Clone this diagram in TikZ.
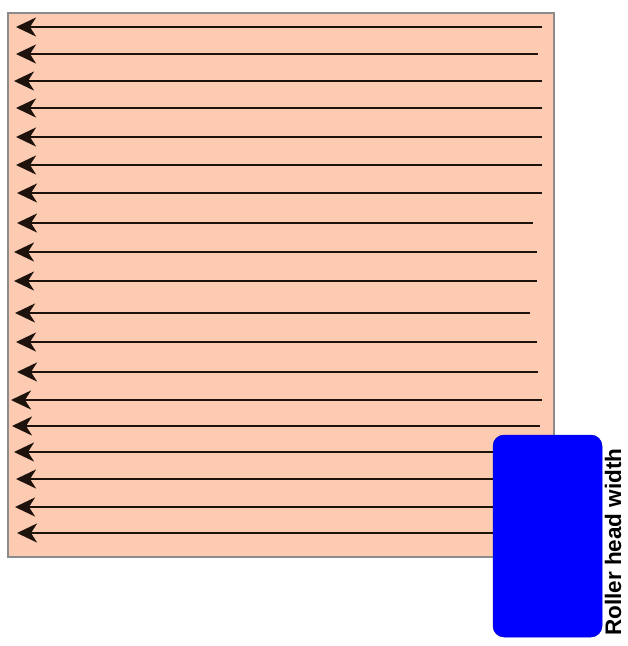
\documentclass[tikz,border=0pt]{standalone}
\usepackage{fontspec}
\setmainfont{Liberation Sans}
\usetikzlibrary{arrows.meta}
\definecolor{peach}{HTML}{FCCBB2}
\definecolor{frame}{HTML}{8C8C8C}
\definecolor{arrowc}{HTML}{1E120C}
\tikzset{
  panel/.style={fill=peach, draw=frame, line width=2.6pt},
  pass/.style={draw=arrowc, line width=2.4pt, -{Stealth[length=20pt,width=19pt,inset=6pt]}},
  roller/.style={fill=blue, draw=blue!80!black, line width=0.5pt, rounded corners=11pt},
  lbl/.style={font=\bfseries\fontsize{22.5}{26}\selectfont, rotate=90, inner sep=0pt}
}
\begin{document}
\begin{tikzpicture}[x=1pt,y=-1pt]
\useasboundingbox (0,0) rectangle (628,646);
\draw[panel] (8,13) rectangle (554,557);
\foreach \i/\yy/\xr/\xl in {1/27/542/16, 2/54/538/16, 3/81/542/14, 4/108/542/16, 5/137/542/16,
  6/165/542/16, 7/193/542/17, 8/223/533/17, 9/252/537/14, 10/281/537/14, 11/313/530/15,
  12/342/537/16, 13/372/538/17, 14/400/542/11, 15/426/540/12, 16/452/530/14, 17/479/530/16,
  18/507/530/15, 19/533/530/17}{
  \coordinate (s\i) at (\xr,\yy);
  \coordinate (e\i) at (\xl,\yy);
  \draw[pass] (s\i) -- (e\i);
}
\draw[roller] (493,435) rectangle (602,637);
\node[lbl, anchor=base west] (label) at (621,636) {Roller head width};
\end{tikzpicture}
\end{document}
